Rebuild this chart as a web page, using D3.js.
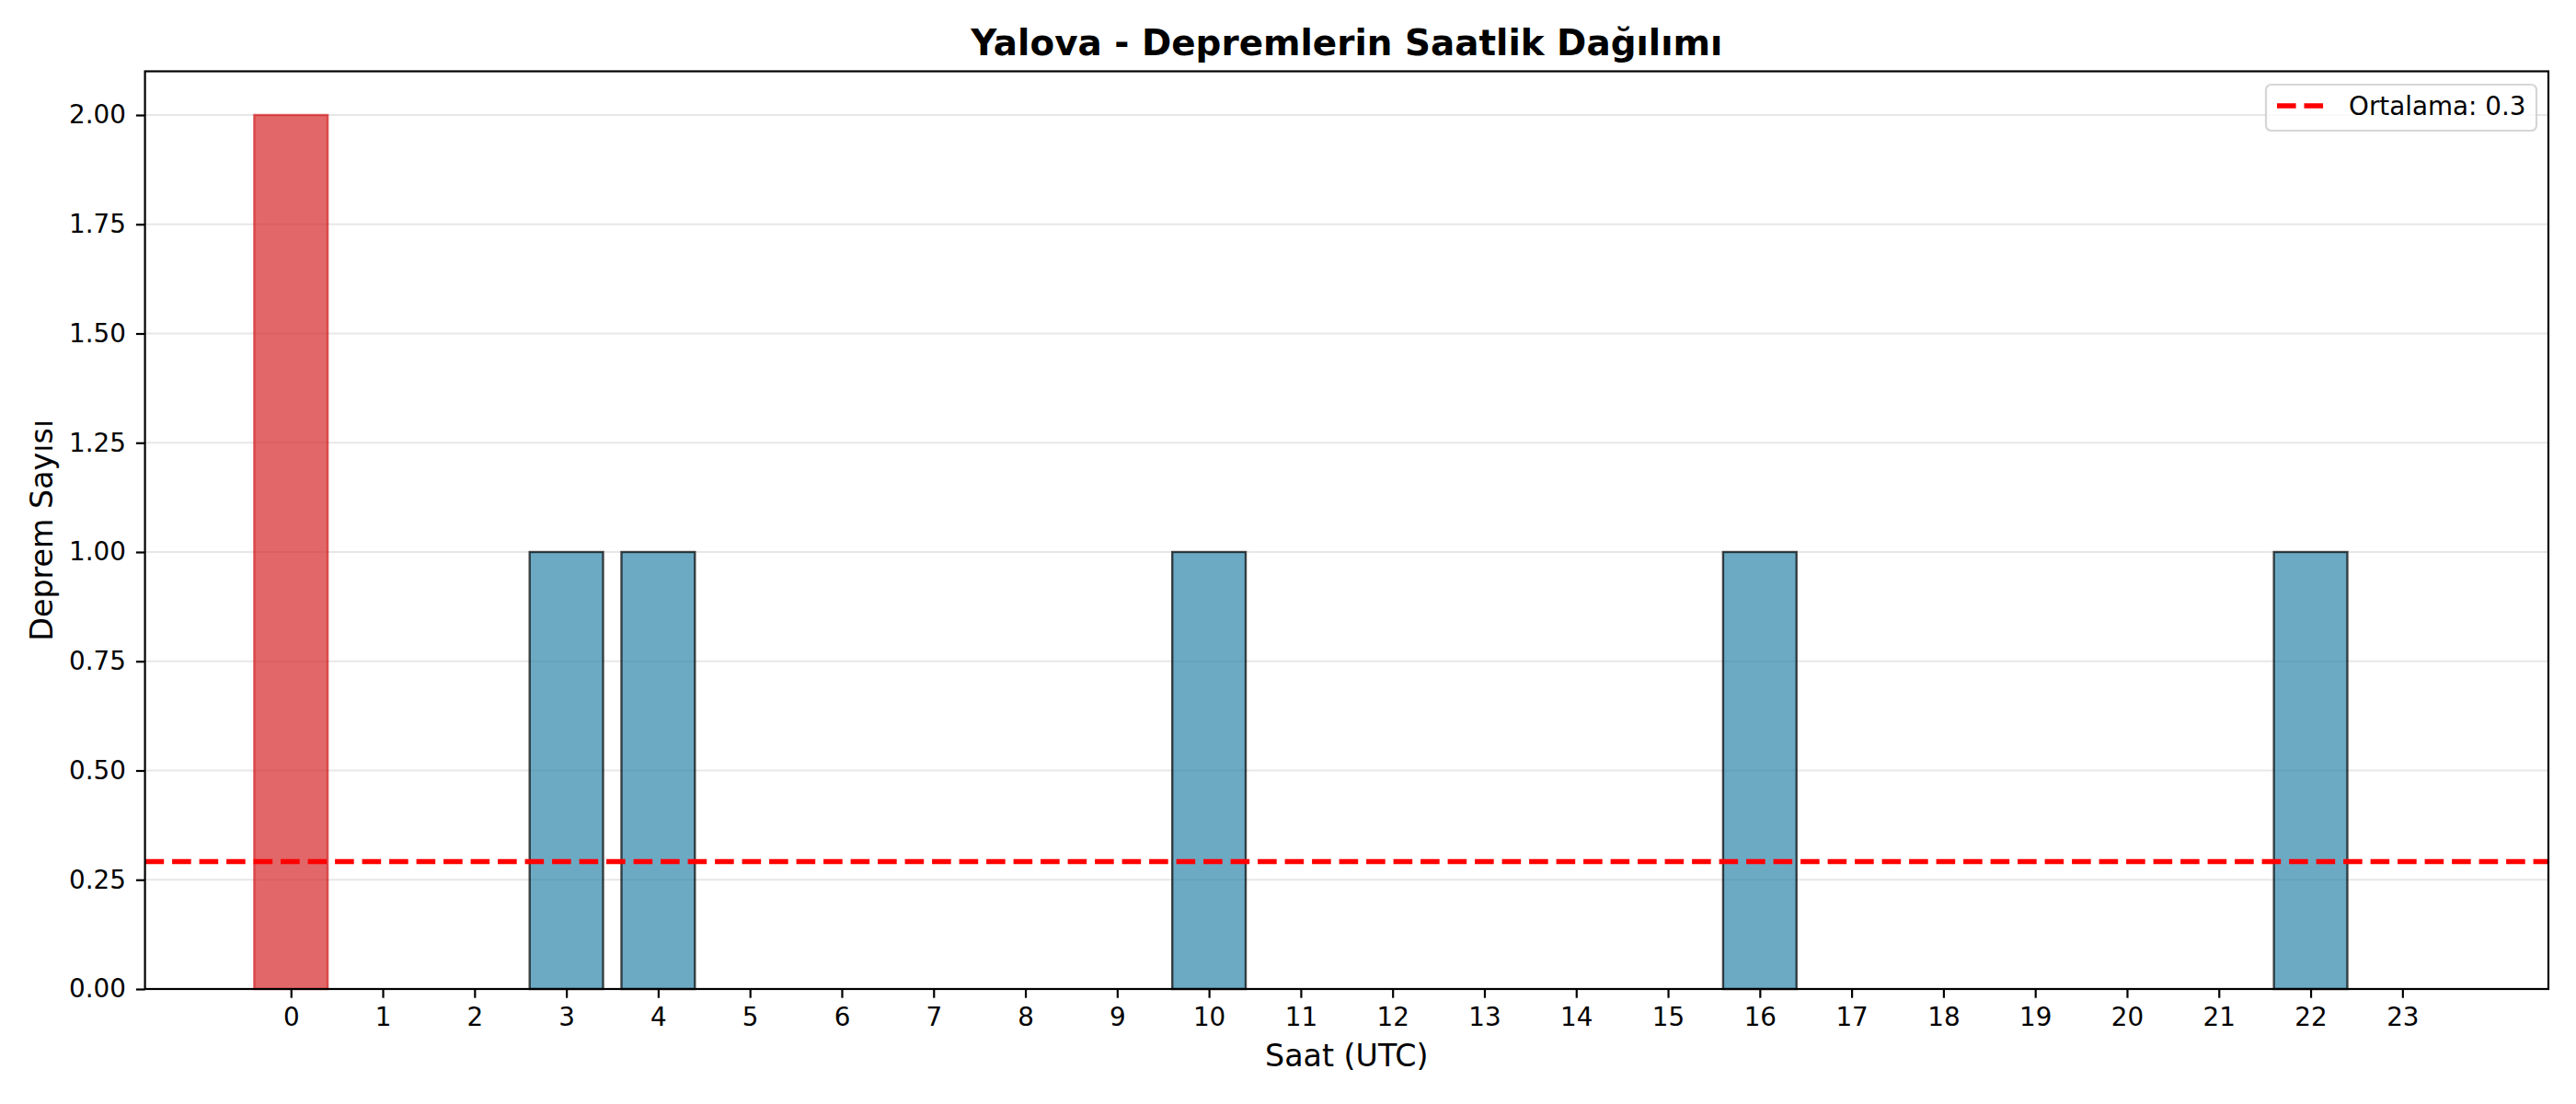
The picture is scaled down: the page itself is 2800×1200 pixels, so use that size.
<!DOCTYPE html>
<html>
<head>
<meta charset="utf-8">
<script src="https://cdn.jsdelivr.net/npm/d3@7"></script>
<style>
  body { margin: 0; background: #fff; }
  text { font-family: "DejaVu Sans", sans-serif; }
</style>
</head>
<body>
<script>
var w = 2800;
var h = 1200;

// hourly earthquake counts (UTC hours 0..23)
var hours = d3.range(24);
var counts = [2, 0, 0, 1, 1, 0, 0, 0, 0, 0, 1, 0, 0, 0, 0, 0, 1, 0, 0, 0, 0, 0, 1, 0];
var yTicks = [0, 0.25, 0.5, 0.75, 1.0, 1.25, 1.5, 1.75, 2.0];

var titleText = "Yalova - Depremlerin Saatlik Dağılımı";
var xLabel = "Saat (UTC)";
var yLabel = "Deprem Sayısı";

var mean = d3.mean(counts);
var legendText = "Ortalama: " + mean.toFixed(1);

var plotLeft = 157.6, plotRight = 2770, plotTop = 77.5, plotBottom = 1075;
var barWidth = 0.8;

var xScale = d3.scaleLinear()
				.domain([-1.59, 24.59])
				.range([plotLeft, plotRight]);

var yScale = d3.scaleLinear()
				.domain([0, 2.1])
				.range([plotBottom, plotTop]);

var svg = d3.select("body")
			.append("svg")
			.attr("width", w)
			.attr("height", h);

svg.append("rect")
	.attr("width", w)
	.attr("height", h)
	.attr("fill", "#fff");

// y grid
svg.append("g")
	.selectAll("line")
	.data(yTicks)
	.enter()
	.append("line")
	.attr("x1", plotLeft)
	.attr("x2", plotRight)
	.attr("y1", function(d) { return yScale(d); })
	.attr("y2", function(d) { return yScale(d); })
	.attr("stroke", "#b0b0b0")
	.attr("stroke-opacity", 0.3)
	.attr("stroke-width", 2.2);

var maxCount = d3.max(counts);

// bars
svg.append("g")
	.selectAll("rect")
	.data(hours.filter(function(i) { return counts[i] > 0; }))
	.enter()
	.append("rect")
	.attr("x", function(i) { return xScale(i - barWidth / 2); })
	.attr("y", function(i) { return yScale(counts[i]); })
	.attr("width", xScale(barWidth) - xScale(0))
	.attr("height", function(i) { return plotBottom - yScale(counts[i]); })
	.attr("fill", function(i) { return counts[i] === maxCount ? "#d62728" : "#2E86AB"; })
	.attr("fill-opacity", 0.7)
	.attr("stroke", function(i) { return counts[i] === maxCount ? "#d62728" : "#000"; })
	.attr("stroke-opacity", 0.7)
	.attr("stroke-width", 2.4);

// mean line
svg.append("line")
	.attr("x1", plotLeft)
	.attr("x2", plotRight)
	.attr("y1", yScale(mean))
	.attr("y2", yScale(mean))
	.attr("stroke", "#ff0000")
	.attr("stroke-width", 5.5)
	.attr("stroke-dasharray", "20.6,8.9");

// axes
var xAxis = d3.axisBottom(xScale)
				.tickValues(hours)
				.tickFormat(d3.format("d"))
				.tickSize(9.7)
				.tickPadding(11);

var yAxis = d3.axisLeft(yScale)
				.tickValues(yTicks)
				.tickFormat(d3.format(".2f"))
				.tickSize(9.7)
				.tickPadding(11);

var gx = svg.append("g")
	.attr("transform", "translate(0," + plotBottom + ")")
	.call(xAxis);

var gy = svg.append("g")
	.attr("transform", "translate(" + plotLeft + ",0)")
	.call(yAxis);

[gx, gy].forEach(function(g) {
	g.select(".domain").remove();
	g.selectAll(".tick line").attr("stroke", "#000").attr("stroke-width", 2.2);
	g.selectAll(".tick text")
		.attr("fill", "#000")
		.style("font-family", "'DejaVu Sans', sans-serif")
		.style("font-size", "27.8px");
});

// frame
svg.append("rect")
	.attr("x", plotLeft)
	.attr("y", plotTop)
	.attr("width", plotRight - plotLeft)
	.attr("height", plotBottom - plotTop)
	.attr("fill", "none")
	.attr("stroke", "#000")
	.attr("stroke-width", 2.2);

// title and labels
svg.append("text")
	.attr("x", (plotLeft + plotRight) / 2)
	.attr("y", 60)
	.attr("text-anchor", "middle")
	.style("font-size", "38.9px")
	.style("font-weight", "bold")
	.text(titleText);

svg.append("text")
	.attr("x", (plotLeft + plotRight) / 2)
	.attr("y", 1159)
	.attr("text-anchor", "middle")
	.style("font-size", "33.3px")
	.text(xLabel);

svg.append("text")
	.attr("transform", "translate(57," + ((plotTop + plotBottom) / 2) + ") rotate(-90)")
	.attr("text-anchor", "middle")
	.style("font-size", "33.3px")
	.text(yLabel);

// legend
var legend = svg.append("g");
legend.append("rect")
	.attr("x", 2463)
	.attr("y", 92)
	.attr("width", 294)
	.attr("height", 50)
	.attr("rx", 5.6)
	.attr("fill", "#fff")
	.attr("fill-opacity", 0.8)
	.attr("stroke", "#cccccc")
	.attr("stroke-opacity", 0.8)
	.attr("stroke-width", 2.2);

legend.append("line")
	.attr("x1", 2475)
	.attr("x2", 2531)
	.attr("y1", 115)
	.attr("y2", 115)
	.attr("stroke", "#ff0000")
	.attr("stroke-width", 5.5)
	.attr("stroke-dasharray", "20.6,8.9");

legend.append("text")
	.attr("x", 2553)
	.attr("y", 125)
	.style("font-size", "27.8px")
	.text(legendText);
</script>
</body>
</html>
